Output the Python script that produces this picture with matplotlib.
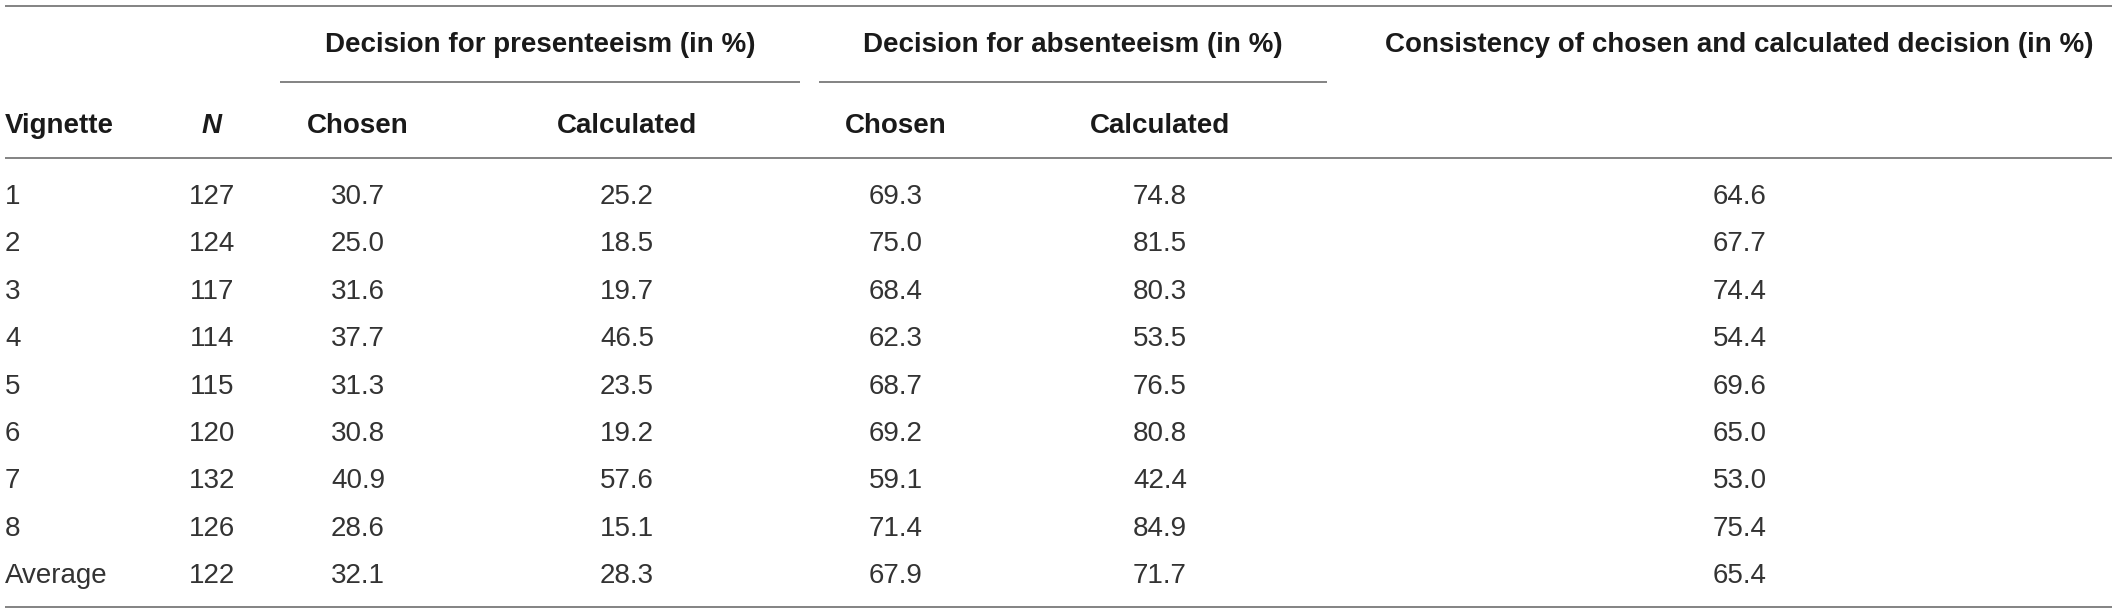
import matplotlib
matplotlib.use("Agg")
import matplotlib.pyplot as plt

# ---- data ----
vignettes = ["1", "2", "3", "4", "5", "6", "7", "8", "Average"]
n_values = [127, 124, 117, 114, 115, 120, 132, 126, 122]
pres_chosen = [30.7, 25.0, 31.6, 37.7, 31.3, 30.8, 40.9, 28.6, 32.1]
pres_calc = [25.2, 18.5, 19.7, 46.5, 23.5, 19.2, 57.6, 15.1, 28.3]
abs_chosen = [69.3, 75.0, 68.4, 62.3, 68.7, 69.2, 59.1, 71.4, 67.9]
abs_calc = [74.8, 81.5, 80.3, 53.5, 76.5, 80.8, 42.4, 84.9, 71.7]
consistency = [64.6, 67.7, 74.4, 54.4, 69.6, 65.0, 53.0, 75.4, 65.4]

group_headers = ["Decision for presenteeism (in %)",
                 "Decision for absenteeism (in %)",
                 "Consistency of chosen and calculated decision (in %)"]
col_headers = ["Vignette", "N", "Chosen", "Calculated", "Chosen", "Calculated"]

# ---- layout (pixel coordinates) ----
W, H = 2118, 614
fig = plt.figure(figsize=(W / 100, H / 100), dpi=100)
ax = fig.add_axes([0, 0, 1, 1])
ax.set_xlim(0, W)
ax.set_ylim(H, 0)
ax.axis("off")

FONT = "Liberation Sans"
FS = 20
HEAD_C = "#1a1a1a"
DATA_C = "#333333"
LINE_C = "#7a7a7a"
LW = 1.3

# horizontal rules
ax.plot([5, 2112], [6, 6], color=LINE_C, lw=LW, solid_capstyle="butt")
ax.plot([280, 800], [82, 82], color=LINE_C, lw=LW, solid_capstyle="butt")
ax.plot([819, 1327], [82, 82], color=LINE_C, lw=LW, solid_capstyle="butt")
ax.plot([5, 2112], [158, 158], color=LINE_C, lw=LW, solid_capstyle="butt")
ax.plot([5, 2112], [607, 607], color=LINE_C, lw=LW, solid_capstyle="butt")

# group headers
group_x = [540, 1073, 1739]
for gx, txt in zip(group_x, group_headers):
    ax.text(gx, 52, txt, ha="center", va="baseline", fontsize=FS,
            fontweight="bold", family=FONT, color=HEAD_C)

# column headers
col_x = [5, 212, 358, 627, 896, 1160]
col_ha = ["left", "center", "center", "center", "center", "center"]
for i, (cx, txt, ha) in enumerate(zip(col_x, col_headers, col_ha)):
    ax.text(cx, 133, txt, ha=ha, va="baseline", fontsize=FS,
            fontweight="bold", family=FONT, color=HEAD_C,
            fontstyle="italic" if txt == "N" else "normal")

# body rows
row0 = 204
dy = 47.4
cons_x = 1740
for i in range(len(vignettes)):
    y = row0 + i * dy
    ax.text(col_x[0], y, vignettes[i], ha="left", va="baseline", fontsize=FS,
            family=FONT, color=DATA_C)
    ax.text(col_x[1], y, f"{n_values[i]}", ha="center", va="baseline", fontsize=FS,
            family=FONT, color=DATA_C)
    for cx, series in zip(col_x[2:], [pres_chosen, pres_calc, abs_chosen, abs_calc]):
        ax.text(cx, y, f"{series[i]:.1f}", ha="center", va="baseline", fontsize=FS,
                family=FONT, color=DATA_C)
    ax.text(cons_x, y, f"{consistency[i]:.1f}", ha="center", va="baseline", fontsize=FS,
            family=FONT, color=DATA_C)

fig.savefig("out.png", dpi=100, facecolor="white")
